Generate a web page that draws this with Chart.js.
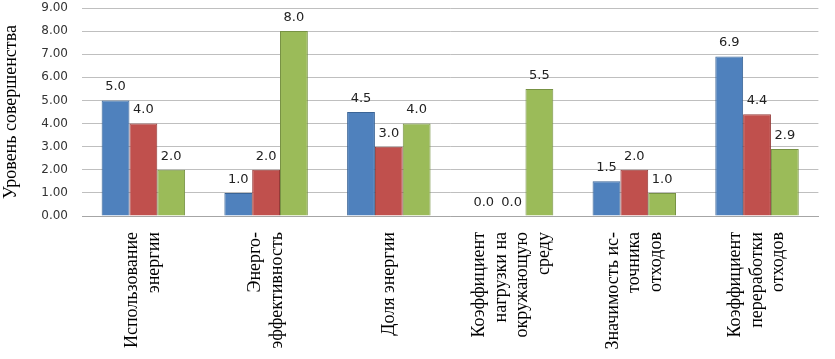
<!DOCTYPE html>
<html>
<head>
<meta charset="utf-8">
<script src="https://cdn.jsdelivr.net/npm/chart.js@4"></script>
<style>
  html, body { margin: 0; padding: 0; background: #fff; }
  #wrap { width: 835px; height: 359px; }
</style>
</head>
<body>
<div id="wrap"><canvas id="barchart"></canvas></div>
<script>
"use strict";

/* chart data */
var categories = [
    ['Использование', 'энергии'],
    ['Энерго-', 'эффективность'],
    ['Доля энергии'],
    ['Коэффициент', 'нагрузки на', 'окружающую', 'среду'],
    ['Значимость ис-', 'точника', 'отходов'],
    ['Коэффициент', 'переработки', 'отходов']
];
var seriesBlue = [5.0, 1.0, 4.5, 0.0, 1.5, 6.9];
var seriesRed = [4.0, 2.0, 3.0, 0.0, 2.0, 4.4];
var seriesGreen = [2.0, 8.0, 4.0, 5.5, 1.0, 2.9];
var yTitle = 'Уровень совершенства';

var labelFont = '18px "Liberation Serif", serif';
var labelLine = 21.5;

/* value labels above bars + centred rotated category labels */
var valueLabels = {
    id: 'valueLabels',
    afterDatasetsDraw: function (chart) {
        var ctx = chart.ctx;
        ctx.save();
        ctx.font = '13px "DejaVu Sans", sans-serif';
        ctx.fillStyle = '#222';
        ctx.textAlign = 'center';
        ctx.textBaseline = 'bottom';
        chart.data.datasets.forEach(function (ds, i) {
            chart.getDatasetMeta(i).data.forEach(function (bar, j) {
                ctx.fillText(ds.data[j].toFixed(1), bar.x, bar.y - 7);
            });
        });
        ctx.restore();
    },
    afterDraw: function (chart) {
        var ctx = chart.ctx;
        var xs = chart.scales.x;
        ctx.save();
        ctx.font = labelFont;
        ctx.fillStyle = '#000';
        ctx.textAlign = 'right';
        ctx.textBaseline = 'middle';
        chart.data.labels.forEach(function (lines, i) {
            var px = xs.getPixelForTick(i);
            var start = px - (lines.length - 1) * labelLine / 2;
            lines.forEach(function (line, k) {
                ctx.save();
                ctx.translate(start + k * labelLine, xs.top + 16);
                ctx.rotate(-Math.PI / 2);
                ctx.fillText(line, 0, 0);
                ctx.restore();
            });
        });
        ctx.restore();
    }
};

var barchart = document.getElementById('barchart').getContext('2d');
var myBarChart = new Chart(barchart, {
    type: 'bar',
    data: {
        labels: categories,
        datasets: [{
            data: seriesBlue,
            backgroundColor: '#4f81bd',
            borderColor: '#3a6496',
            borderWidth: 1
        }, {
            data: seriesRed,
            backgroundColor: '#c0504d',
            borderColor: '#953b39',
            borderWidth: 1
        }, {
            data: seriesGreen,
            backgroundColor: '#9bbb59',
            borderColor: '#779244',
            borderWidth: 1
        }]
    },
    options: {
        animation: false,
        responsive: true,
        maintainAspectRatio: false,
        categoryPercentage: 0.68,
        barPercentage: 1.0,
        layout: {
            padding: { top: 0, right: 14, left: 0, bottom: 0 }
        },
        plugins: {
            legend: { display: false },
            tooltip: { enabled: false }
        },
        scales: {
            x: {
                grid: { display: false },
                border: { display: true, color: '#a6a6a6' },
                ticks: {
                    autoSkip: false,
                    minRotation: 90,
                    maxRotation: 90,
                    padding: 12,
                    color: 'rgba(0,0,0,0)',
                    font: { family: '"Liberation Serif", serif', size: 18, lineHeight: 1.2 }
                },
                afterFit: function (scale) { scale.height = 143; }
            },
            y: {
                min: 0,
                max: 9,
                grid: { color: '#bfbfbf', drawTicks: false },
                border: { display: false },
                ticks: {
                    stepSize: 1,
                    padding: 14,
                    color: '#333',
                    font: { family: '"DejaVu Sans", sans-serif', size: 12 },
                    callback: function (v) { return v.toFixed(2); }
                },
                title: {
                    display: true,
                    text: yTitle,
                    color: '#000',
                    padding: 0,
                    font: { family: '"Liberation Serif", serif', size: 18 }
                },
                afterFit: function (scale) {
                    scale.width = 82;
                    scale.paddingTop = 8;
                }
            }
        }
    },
    plugins: [valueLabels]
});
</script>
</body>
</html>
